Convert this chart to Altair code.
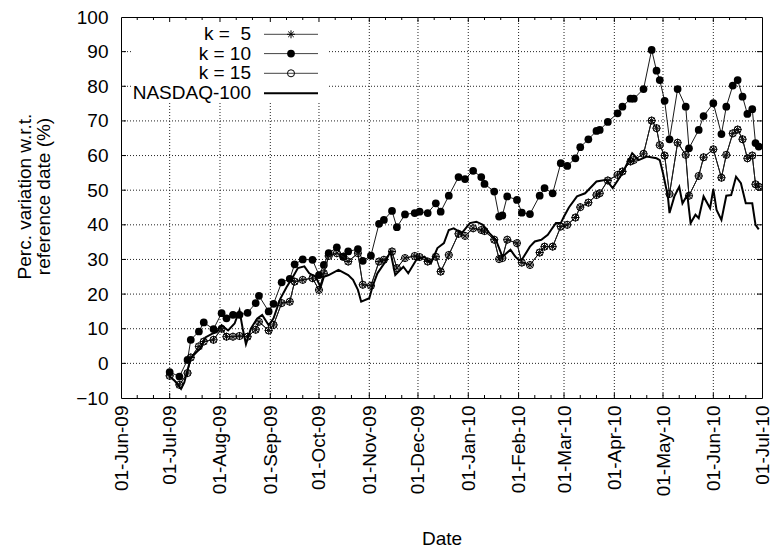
import altair as alt
import pandas as pd

# ---------------- data ----------------
k_dates = [
    "2009-07-01", "2009-07-07", "2009-07-12", "2009-07-14", "2009-07-19", "2009-07-22", "2009-07-28",
    "2009-08-02", "2009-08-05", "2009-08-09", "2009-08-13", "2009-08-18", "2009-08-23", "2009-08-25", "2009-08-31",
    "2009-09-03", "2009-09-08", "2009-09-13", "2009-09-16", "2009-09-21", "2009-09-27",
    "2009-10-01", "2009-10-04", "2009-10-07", "2009-10-12", "2009-10-16", "2009-10-19", "2009-10-25", "2009-10-28",
    "2009-11-02", "2009-11-07", "2009-11-10", "2009-11-15", "2009-11-18", "2009-11-23", "2009-11-29",
    "2009-12-02", "2009-12-07", "2009-12-12", "2009-12-15", "2009-12-20", "2009-12-26", "2009-12-30",
    "2010-01-04", "2010-01-09", "2010-01-11", "2010-01-17", "2010-01-20", "2010-01-22", "2010-01-25", "2010-01-31",
    "2010-02-03", "2010-02-08", "2010-02-14", "2010-02-17", "2010-02-22", "2010-02-27",
    "2010-03-03", "2010-03-08", "2010-03-11", "2010-03-16", "2010-03-21", "2010-03-23", "2010-03-28",
    "2010-04-03", "2010-04-06", "2010-04-11", "2010-04-13", "2010-04-19", "2010-04-24", "2010-04-27", "2010-04-29",
    "2010-05-02", "2010-05-05", "2010-05-10", "2010-05-15", "2010-05-17", "2010-05-23", "2010-05-26",
    "2010-06-01", "2010-06-06", "2010-06-09", "2010-06-13", "2010-06-16", "2010-06-19", "2010-06-22",
    "2010-06-25", "2010-06-27", "2010-06-29",
]

k10_values = [
    -2.5, -3.8, 1.0, 6.8, 9.2, 11.8, 9.9,
    14.5, 13.0, 14.0, 14.0, 14.6, 17.4, 19.5, 15.0,
    17.2, 23.4, 24.4, 28.6, 30.0, 29.9,
    25.5, 28.4, 31.8, 33.5, 30.8, 32.3, 33.0, 29.6,
    31.1, 40.3, 41.4, 44.0, 39.3, 43.0, 43.4,
    43.8, 43.4, 46.2, 43.8, 48.4, 53.8, 53.2,
    55.6, 53.8, 51.8, 49.6, 42.4, 42.7, 48.2, 47.2,
    43.5, 43.1, 48.4, 50.6, 49.1, 57.8,
    57.0, 59.2, 62.4, 64.7, 67.1, 67.4, 69.7,
    72.2, 74.1, 76.4, 76.4, 79.2, 90.5, 84.5, 81.8,
    75.8, 64.7, 79.2, 74.1, 62.1, 67.4, 71.4,
    75.1, 66.2, 74.1, 80.2, 81.8, 77.0, 72.0, 73.4, 63.6, 62.6,
]

k5_values = [
    -3.6, -6.2, -2.8, 1.7, 4.9, 6.3, 6.8,
    10.0, 7.7, 7.7, 7.9, 7.7, 9.7, 12.0, 9.5,
    11.1, 17.4, 17.8, 23.6, 24.1, 24.6,
    21.2, 26.0, 31.0, 31.8, 30.8, 29.4, 31.8, 22.7,
    22.4, 29.4, 29.9, 32.3, 27.5, 30.4, 31.0,
    30.7, 29.4, 30.8, 26.5, 31.3, 37.4, 36.8,
    39.0, 38.5, 38.2, 35.7, 30.1, 30.4, 35.7, 34.7,
    29.1, 28.4, 32.0, 33.7, 33.7, 39.5,
    40.0, 42.1, 45.1, 46.4, 48.6, 49.1, 52.8,
    54.4, 55.4, 58.3, 58.7, 60.5, 70.1, 67.9, 63.0,
    60.0, 48.9, 63.7, 60.2, 48.4, 54.1, 59.5,
    61.8, 53.6, 60.2, 66.4, 67.5, 64.7, 59.2, 60.0, 51.7, 51.0,
]

k15_values = [
    -3.6, -6.2, -2.8, 1.7, 4.9, 6.3, 6.8,
    10.0, 7.7, 7.7, 7.9, 7.7, 9.7, 12.0, 9.5,
    11.1, 17.4, 17.8, 23.6, 24.1, 24.6,
    21.2, 26.0, 31.0, 31.8, 30.8, 29.4, 31.8, 22.7,
    22.4, 29.4, 29.9, 32.3, 27.5, 30.4, 31.0,
    30.7, 29.4, 30.8, 26.5, 31.3, 37.4, 36.8,
    39.0, 38.5, 38.2, 35.7, 30.1, 30.4, 35.7, 34.7,
    29.1, 28.4, 32.0, 33.7, 33.7, 39.5,
    40.0, 42.1, 45.1, 46.4, 48.6, 49.1, 52.8,
    54.4, 55.4, 58.3, 58.7, 60.5, 70.1, 67.9, 63.0,
    60.0, 48.9, 63.7, 60.2, 48.4, 54.1, 59.5,
    61.8, 53.6, 60.2, 66.4, 67.5, 64.7, 59.2, 60.0, 51.7, 51.0,
]

nasdaq_dates = [
    "2009-07-01", "2009-07-04", "2009-07-08", "2009-07-10", "2009-07-12", "2009-07-14", "2009-07-17",
    "2009-07-20", "2009-07-23", "2009-07-27", "2009-07-30", "2009-08-02", "2009-08-06", "2009-08-10",
    "2009-08-13", "2009-08-15", "2009-08-17", "2009-08-20", "2009-08-24", "2009-08-27", "2009-08-31",
    "2009-09-03", "2009-09-07", "2009-09-11", "2009-09-15", "2009-09-18", "2009-09-22", "2009-09-25",
    "2009-09-29", "2009-10-02", "2009-10-04", "2009-10-07", "2009-10-13", "2009-10-19", "2009-10-22",
    "2009-10-25", "2009-10-27", "2009-11-01", "2009-11-03", "2009-11-06", "2009-11-11", "2009-11-14",
    "2009-11-17", "2009-11-22", "2009-11-25", "2009-11-30", "2009-12-05", "2009-12-09", "2009-12-13",
    "2009-12-17", "2009-12-20", "2009-12-23", "2009-12-28", "2010-01-02", "2010-01-06", "2010-01-10",
    "2010-01-14", "2010-01-18", "2010-01-20", "2010-01-22", "2010-01-27", "2010-01-30", "2010-02-01",
    "2010-02-03", "2010-02-08", "2010-02-11", "2010-02-15", "2010-02-19", "2010-02-21", "2010-02-24",
    "2010-02-27", "2010-03-01", "2010-03-04", "2010-03-09", "2010-03-14", "2010-03-21", "2010-03-27",
    "2010-03-31", "2010-04-06", "2010-04-12", "2010-04-16", "2010-04-21", "2010-04-27", "2010-04-29",
    "2010-05-01", "2010-05-04", "2010-05-05", "2010-05-08", "2010-05-11", "2010-05-13", "2010-05-16",
    "2010-05-18", "2010-05-21", "2010-05-23", "2010-05-26", "2010-05-30", "2010-06-01", "2010-06-03",
    "2010-06-06", "2010-06-09", "2010-06-12", "2010-06-15", "2010-06-18", "2010-06-21", "2010-06-25",
    "2010-06-27", "2010-06-29",
]

nasdaq_values = [
    -3.8, -5.0, -7.4, -5.5, -1.9, 1.5, 3.0,
    4.4, 7.5, 8.5, 9.0, 11.0, 9.5, 11.5,
    15.3, 10.0, 5.5, 10.0, 13.0, 14.0, 11.0,
    13.0, 18.5, 22.0, 25.0, 27.5, 28.0, 26.0,
    25.0, 22.0, 25.0, 25.5, 27.0, 25.5, 24.1,
    21.2, 17.8, 18.8, 22.2, 26.0, 29.4, 32.3,
    25.5, 27.9, 26.0, 29.9, 30.8, 28.9, 33.3,
    34.7, 38.5, 39.0, 37.6, 40.5, 40.9, 40.0,
    37.6, 35.7, 33.3, 30.8, 32.8, 30.8, 29.9,
    29.9, 33.7, 35.2, 35.7, 37.1, 38.5, 40.5,
    40.5, 42.4, 45.0, 48.2, 49.1, 52.5, 53.0,
    50.6, 54.9, 60.7, 58.7, 59.7, 59.2, 58.7,
    54.9, 48.2, 43.4, 48.2, 51.0, 46.2, 48.6,
    40.5, 42.9, 41.9, 48.2, 44.8, 50.3, 44.3,
    41.4, 48.4, 48.6, 53.9, 52.0, 46.2, 46.2,
    40.0, 38.7,
]

month_ticks = [
    "2009-06-01", "2009-07-01", "2009-08-01", "2009-09-01", "2009-10-01", "2009-11-01", "2009-12-01",
    "2010-01-01", "2010-02-01", "2010-03-01", "2010-04-01", "2010-05-01", "2010-06-01", "2010-07-01",
]
y_ticks = [-10, 0, 10, 20, 30, 40, 50, 60, 70, 80, 90, 100]

legend_labels = ["k =\u00a0 5", "k = 10", "k = 15", "NASDAQ-100"]

# ---------------- helpers ----------------
W, H = 641, 381
FONT = "Liberation Sans"
FS = 19
Y0, Y1 = -10, 100
START, END = pd.Timestamp(month_ticks[0]), pd.Timestamp(month_ticks[-1])
SPAN_DAYS = (END - START).days
KEY_L, KEY_R, KEY_B = 11, 208, 86   # opaque key box, pixels inside the plot


def x_px(s):
    """pixel position of a date, same linear mapping as the x scale"""
    return (pd.Timestamp(s) - START).total_seconds() / 86400.0 / SPAN_DAYS * W


def y_px(v):
    """pixel position of a value, same linear mapping as the y scale"""
    return (Y1 - v) / (Y1 - Y0) * H


def dt(s):
    y, m, d = s.split("-")
    return alt.DateTime(year=int(y), month=int(m), date=int(d), utc=True)


minor_ticks = []
for s in month_ticks[:-1]:
    minor_ticks.append(s[:8] + "11")
    minor_ticks.append(s[:8] + "21")

x_scale = alt.Scale(type="utc", domain=[dt(month_ticks[0]), dt(month_ticks[-1])], nice=False)
y_scale = alt.Scale(domain=[Y0, Y1], nice=False, zero=False)

common_axis = dict(
    domain=False, ticks=False, grid=False,
    labelFont=FONT, labelFontSize=FS, labelColor="black",
    titleFont=FONT, titleFontSize=FS, titleFontWeight="normal", titleColor="black",
    labelOverlap=False, labelFlush=False,
)
x_axis = alt.Axis(
    values=[dt(s) for s in month_ticks],
    labelExpr="utcFormat(datum.value, '%d-%b-%y')",
    labelAngle=270,
    labelPadding=7,
    title="Date",
    titleY=146,
    titleBaseline="alphabetic",
    **common_axis,
)
y_axis = alt.Axis(
    values=y_ticks,
    labelPadding=13,
    title=["Perc. variation w.r.t.", "reference date (%)"],
    titleAngle=270,
    titleX=-91,
    titleY=179,
    titleAlign="center",
    titleBaseline="alphabetic",
    titleLineHeight=19,
    **common_axis,
)


def X():
    return alt.X("date:T", scale=x_scale, axis=x_axis)


def Y():
    return alt.Y("value:Q", scale=y_scale, axis=y_axis)


k_df5 = pd.DataFrame({"date": k_dates, "value": k5_values})
k_df10 = pd.DataFrame({"date": k_dates, "value": k10_values})
k_df15 = pd.DataFrame({"date": k_dates, "value": k15_values})
nq_df = pd.DataFrame({"date": nasdaq_dates, "value": nasdaq_values})

ASTER = "M-1,0L1,0M0,-1L0,1M-0.7,-0.7L0.7,0.7M-0.7,0.7L0.7,-0.7"
LINE_C = "#1a1a1a"
GRID = dict(color="#222222", strokeDash=[1, 2], strokeWidth=1)
TICK = dict(color="black", strokeWidth=1)

one = pd.DataFrame({"a": [0]})


def seg(x0, y0, x1, y1, style):
    return alt.Chart(one).mark_rule(**style).encode(
        x=alt.value(round(x0, 2)), x2=alt.value(round(x1, 2)),
        y=alt.value(round(y0, 2)), y2=alt.value(round(y1, 2)))


layers = []

# k = 5 line first (carries the axes)
layers.append(alt.Chart(k_df5).mark_line(color=LINE_C, strokeWidth=1).encode(x=X(), y=Y()))

# dotted grid at the tick positions, kept out of the key box
for s in month_ticks[1:-1]:
    xp = x_px(s)
    top = KEY_B if KEY_L < xp < KEY_R else 0
    layers.append(seg(xp, top, xp, H, GRID))
for v in y_ticks[1:-1]:
    yp = y_px(v)
    if yp < KEY_B:
        layers.append(seg(0, yp, KEY_L, yp, GRID))
        layers.append(seg(KEY_R, yp, W, yp, GRID))
    else:
        layers.append(seg(0, yp, W, yp, GRID))

layers.append(
    alt.Chart(k_df5).mark_point(shape=ASTER, size=64, filled=False, color="black",
                                strokeWidth=1, opacity=1).encode(x=X(), y=Y())
)
# k = 10
layers.append(alt.Chart(k_df10).mark_line(color=LINE_C, strokeWidth=1).encode(x=X(), y=Y()))
layers.append(
    alt.Chart(k_df10).mark_point(shape="circle", size=60, filled=True, color="black",
                                 opacity=1).encode(x=X(), y=Y())
)
# k = 15
layers.append(alt.Chart(k_df15).mark_line(color=LINE_C, strokeWidth=1).encode(x=X(), y=Y()))
layers.append(
    alt.Chart(k_df15).mark_point(shape="circle", size=50, filled=False, color="black",
                                 strokeWidth=1, opacity=1).encode(x=X(), y=Y())
)
# NASDAQ-100
layers.append(alt.Chart(nq_df).mark_line(color="black", strokeWidth=2).encode(x=X(), y=Y()))

# inward tick marks (gnuplot style, mirrored on all four sides)
for s in month_ticks[1:-1]:
    xp = x_px(s)
    layers.append(seg(xp, H, xp, H - 5, TICK))
    layers.append(seg(xp, 0, xp, 5, TICK))
for s in minor_ticks:
    xp = x_px(s)
    layers.append(seg(xp, H, xp, H - 3, TICK))
    layers.append(seg(xp, 0, xp, 3, TICK))
for v in y_ticks[1:-1]:
    yp = y_px(v)
    layers.append(seg(0, yp, 5, yp, TICK))
    layers.append(seg(W, yp, W - 5, yp, TICK))

# legend entries
row_y = [17.3, 36.6, 56.3, 76.3]
for i, lab in enumerate(legend_labels):
    yy = row_y[i]
    layers.append(alt.Chart(one).mark_text(text=lab, align="right", baseline="middle",
                                           font=FONT, fontSize=FS, color="black").encode(
        x=alt.value(130), y=alt.value(yy)))
    layers.append(alt.Chart(one).mark_rule(color="black" if i == 3 else "#444",
                                           strokeWidth=2 if i == 3 else 1).encode(
        x=alt.value(143), x2=alt.value(197), y=alt.value(yy)))
    if i == 0:
        layers.append(alt.Chart(one).mark_point(shape=ASTER, size=64, filled=False, color="black",
                                                strokeWidth=1, opacity=1).encode(
            x=alt.value(170), y=alt.value(yy)))
    elif i == 1:
        layers.append(alt.Chart(one).mark_point(shape="circle", size=60, filled=True, color="black",
                                                opacity=1).encode(
            x=alt.value(170), y=alt.value(yy)))
    elif i == 2:
        layers.append(alt.Chart(one).mark_point(shape="circle", size=50, filled=False, color="black",
                                                strokeWidth=1, opacity=1).encode(
            x=alt.value(170), y=alt.value(yy)))

chart = (
    alt.layer(*layers)
    .properties(
        width=W,
        height=H,
        padding={"left": 121, "top": 17, "right": 8, "bottom": 149},
        autosize=alt.AutoSizeParams(type="none"),
        background="white",
    )
    .configure_view(stroke="black", strokeWidth=1)
)

chart.save("out.html", embed_options={"renderer": "svg", "actions": False})
